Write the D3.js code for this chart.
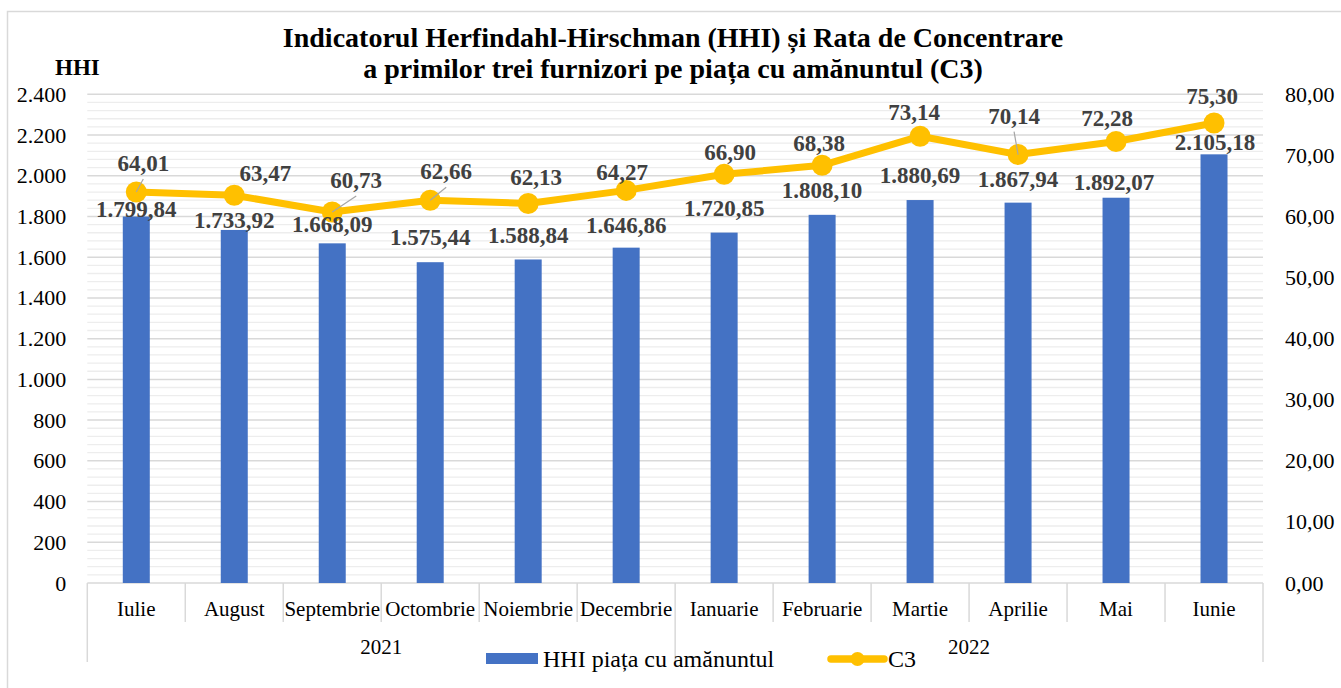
<!DOCTYPE html>
<html>
<head>
<meta charset="utf-8">
<script src="https://cdn.jsdelivr.net/npm/d3@7"></script>
<style>
  body { margin: 0; background: #fff; }
  svg { display: block; font-family: "Liberation Serif", "Times New Roman", serif; }
</style>
</head>
<body>
<svg id="chart" width="1341" height="688"></svg>
<script>
const months = ['Iulie', 'August', 'Septembrie', 'Octombrie', 'Noiembrie', 'Decembrie',
                'Ianuarie', 'Februarie', 'Martie', 'Aprilie', 'Mai', 'Iunie'];
const years = ['2021', '2022'];
const monthsPerYear = [6, 6];
const hhi = [1799.84, 1733.92, 1668.09, 1575.44, 1588.84, 1646.86,
             1720.85, 1808.10, 1880.69, 1867.94, 1892.07, 2105.18];
const c3 = [64.01, 63.47, 60.73, 62.66, 62.13, 64.27,
            66.90, 68.38, 73.14, 70.14, 72.28, 75.30];
const hhiTicks = d3.range(0, 2401, 200);
const c3Ticks = d3.range(0, 81, 10);

// labels that were dragged by hand in the original (px offsets)
const c3LabelNudge = [[7, -4], [31, 3], [24, -7], [16, -4], [8, -2], [-4, 7],
                      [6, 3], [-3, 3], [-6, 1], [-4, -14], [-9, 1], [-2, -2]];
const c3Leader = [true, false, true, true, false, false, false, false, false, true, false, false];
const hhiLabelNudge = [[0, 17], [0, 15], [0, 6], [0, 0], [0, 0], [0, 2],
                       [0, 0], [0, 0], [0, 0], [0, 1], [-2, 9], [1, 13]];

const ro = d3.formatLocale({ decimal: ',', thousands: '.', grouping: [3], currency: ['', ''] });
const fmtHHI = ro.format(',.2f');
const fmtTick = ro.format(',.0f');
const fmtC3 = ro.format('.2f');

const W = 1341, H = 688;
const plotL = 87.3, plotR = 1263, plotT = 94.3, plotB = 583;

const svg = d3.select('#chart');

svg.append('rect').attr('width', W).attr('height', H).attr('fill', '#fff');
svg.append('rect')
  .attr('x', 7.5).attr('y', 11.5).attr('width', W).attr('height', H)
  .attr('fill', 'none').attr('stroke', '#d9d9d9').attr('stroke-width', 1.5);

const x = d3.scaleBand().domain(months).range([plotL, plotR]).padding(0);
const yL = d3.scaleLinear().domain([0, 2400]).range([plotB, plotT]);
const yR = d3.scaleLinear().domain([0, 80]).range([plotB, plotT]);
const cx = m => x(m) + x.bandwidth() / 2;
const barW = 27;

// ── Gridlines ────────────────────────────────────────────────────────────────

const minor = d3.range(0, 2401, 40).filter(v => v % 200 !== 0);
svg.append('g').selectAll('line').data(minor).join('line')
  .attr('x1', plotL).attr('x2', plotR)
  .attr('y1', d => yL(d)).attr('y2', d => yL(d))
  .attr('stroke', '#ededed').attr('stroke-width', 1.3);

svg.append('g').selectAll('line').data(hhiTicks.filter(v => v > 0)).join('line')
  .attr('x1', plotL).attr('x2', plotR)
  .attr('y1', d => yL(d)).attr('y2', d => yL(d))
  .attr('stroke', '#d9d9d9').attr('stroke-width', 1.5);

// ── Axes ─────────────────────────────────────────────────────────────────────

const axL = svg.append('g').attr('transform', `translate(${plotL},0)`)
  .call(d3.axisLeft(yL).tickValues(hhiTicks).tickFormat(fmtTick).tickSize(0).tickPadding(21));
const axR = svg.append('g').attr('transform', `translate(${plotR},0)`)
  .call(d3.axisRight(yR).tickValues(c3Ticks).tickFormat(fmtC3).tickSize(0).tickPadding(22));
[axL, axR].forEach(ax => {
  ax.select('.domain').remove();
  ax.selectAll('text')
    .attr('font-family', '"Liberation Serif", serif')
    .attr('font-size', 22).attr('fill', '#000');
});

// category axis (two levels)
const step = x.step();
const bounds = d3.range(months.length + 1);
const yearEdges = [0, ...d3.cumsum(monthsPerYear)];
svg.append('g').selectAll('line').data(bounds).join('line')
  .attr('x1', i => plotL + i * step).attr('x2', i => plotL + i * step)
  .attr('y1', plotB)
  .attr('y2', i => yearEdges.includes(i) ? 662 : 622)
  .attr('stroke', '#d9d9d9').attr('stroke-width', 1.5);

svg.append('line')
  .attr('x1', plotL).attr('x2', plotR).attr('y1', plotB).attr('y2', plotB)
  .attr('stroke', '#d9d9d9').attr('stroke-width', 1.5);

svg.append('g').selectAll('text').data(months).join('text')
  .attr('x', d => cx(d)).attr('y', 609).attr('dy', '0.35em')
  .attr('text-anchor', 'middle').attr('font-size', 21).attr('fill', '#000')
  .text(d => d);

svg.append('g').selectAll('text').data(years).join('text')
  .attr('x', (d, i) => plotL + (yearEdges[i] + yearEdges[i + 1]) / 2 * step)
  .attr('y', 647).attr('dy', '0.35em')
  .attr('text-anchor', 'middle').attr('font-size', 21).attr('fill', '#000')
  .text(d => d);

// ── Bars ─────────────────────────────────────────────────────────────────────

svg.append('g').selectAll('rect').data(hhi).join('rect')
  .attr('x', (d, i) => cx(months[i]) - barW / 2)
  .attr('width', barW)
  .attr('y', d => yL(d))
  .attr('height', d => plotB - yL(d))
  .attr('fill', '#4472C4');

// ── C3 line ──────────────────────────────────────────────────────────────────

const line = d3.line().x((d, i) => cx(months[i])).y(d => yR(d));
svg.append('path').datum(c3)
  .attr('d', line).attr('fill', 'none')
  .attr('stroke', '#FFC000').attr('stroke-width', 7)
  .attr('stroke-linejoin', 'round');

svg.append('g').selectAll('circle').data(c3).join('circle')
  .attr('cx', (d, i) => cx(months[i])).attr('cy', d => yR(d))
  .attr('r', 10.5).attr('fill', '#FFC000');

// ── Data labels ──────────────────────────────────────────────────────────────

const c3Pos = c3.map((d, i) => ({
  px: cx(months[i]), py: yR(d),
  lx: cx(months[i]) + c3LabelNudge[i][0],
  ly: yR(d) - 25 + c3LabelNudge[i][1],
}));

svg.append('g').selectAll('line').data(c3Pos.filter((p, i) => c3Leader[i])).join('line')
  .attr('x1', p => p.px).attr('y1', p => p.py)
  .attr('x2', p => p.lx).attr('y2', p => p.ly + 16)
  .attr('stroke', '#a6a6a6').attr('stroke-width', 1.2);

const lbl = svg.append('g')
  .attr('font-weight', 'bold').attr('font-size', 23).attr('fill', '#404040')
  .attr('text-anchor', 'middle');

lbl.selectAll('text.h').data(hhi).join('text').attr('class', 'h')
  .attr('x', (d, i) => cx(months[i]) + hhiLabelNudge[i][0])
  .attr('y', (d, i) => yL(d) - 25 + hhiLabelNudge[i][1])
  .attr('dy', '0.35em')
  .text(d => fmtHHI(d));

lbl.selectAll('text.c').data(c3).join('text').attr('class', 'c')
  .attr('x', (d, i) => c3Pos[i].lx)
  .attr('y', (d, i) => c3Pos[i].ly)
  .attr('dy', '0.35em')
  .text(d => fmtC3(d));

// ── Title & axis name ────────────────────────────────────────────────────────

const title = svg.append('g')
  .attr('font-weight', 'bold').attr('font-size', 28).attr('fill', '#000')
  .attr('text-anchor', 'middle');
title.append('text').attr('x', 673).attr('y', 37).attr('dy', '0.35em')
  .text('Indicatorul Herfindahl-Hirschman (HHI) și Rata de Concentrare');
title.append('text').attr('x', 673).attr('y', 68).attr('dy', '0.35em')
  .text('a primilor trei furnizori pe piața cu amănuntul (C3)');

svg.append('text').attr('x', 55).attr('y', 67).attr('dy', '0.35em')
  .attr('font-weight', 'bold').attr('font-size', 23).attr('fill', '#000')
  .text('HHI');

// ── Legend ───────────────────────────────────────────────────────────────────

const legY = 659;
svg.append('rect').attr('x', 486).attr('y', legY - 6).attr('width', 52).attr('height', 11)
  .attr('fill', '#4472C4');
svg.append('text').attr('x', 543).attr('y', legY).attr('dy', '0.35em')
  .attr('font-size', 24).attr('fill', '#000').text('HHI piața cu amănuntul');
svg.append('line').attr('x1', 831).attr('x2', 884).attr('y1', legY).attr('y2', legY)
  .attr('stroke', '#FFC000').attr('stroke-width', 7.5).attr('stroke-linecap', 'round');
svg.append('circle').attr('cx', 857.5).attr('cy', legY).attr('r', 7).attr('fill', '#FFC000');
svg.append('text').attr('x', 888).attr('y', legY).attr('dy', '0.35em')
  .attr('font-size', 24).attr('fill', '#000').text('C3');
</script>
</body>
</html>
